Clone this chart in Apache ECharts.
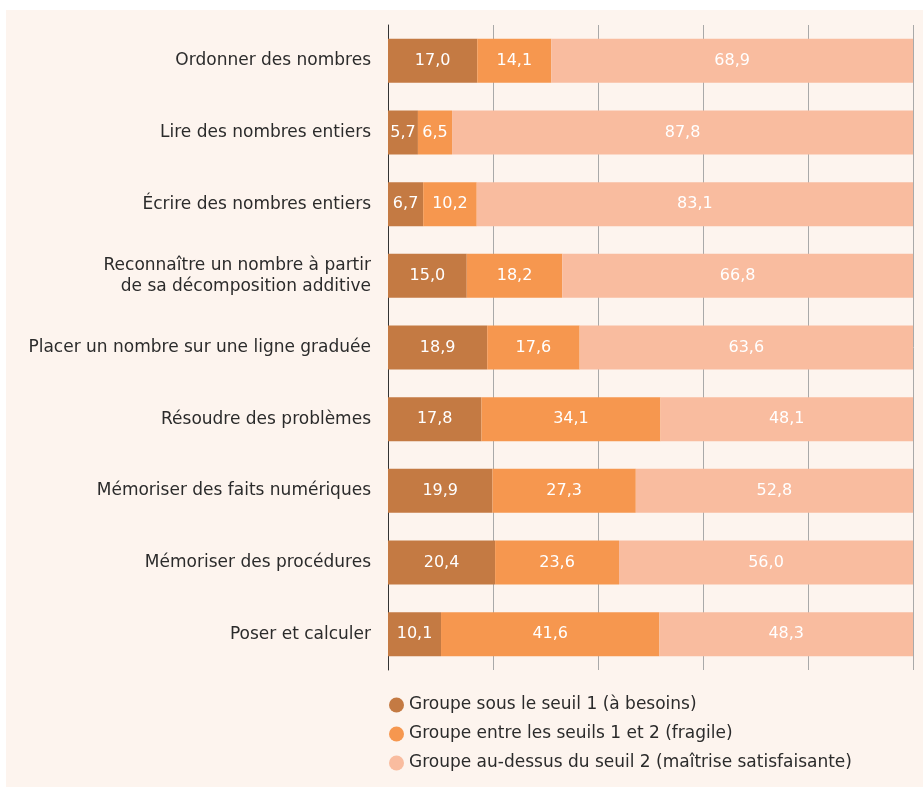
<!DOCTYPE html>
<html><head><meta charset="utf-8">
<script src="https://cdn.jsdelivr.net/npm/echarts@6/dist/echarts.min.js"></script>
<style>html,body{margin:0;padding:0;background:#fff;}#c{width:923px;height:787px;}</style>
</head><body><div id="c"></div>
<script>
const categories = [
  "Ordonner des nombres",
  "Lire des nombres entiers",
  "Écrire des nombres entiers",
  "Reconnaître un nombre à partir\nde sa décomposition additive",
  "Placer un nombre sur une ligne graduée",
  "Résoudre des problèmes",
  "Mémoriser des faits numériques",
  "Mémoriser des procédures",
  "Poser et calculer"
];
const seriesNames = [
  "Groupe sous le seuil 1 (à besoins)",
  "Groupe entre les seuils 1 et 2 (fragile)",
  "Groupe au-dessus du seuil 2 (maîtrise satisfaisante)"
];
const besoins = [17.0, 5.7, 6.7, 15.0, 18.9, 17.8, 19.9, 20.4, 10.1];
const fragile = [14.1, 6.5, 10.2, 18.2, 17.6, 34.1, 27.3, 23.6, 41.6];
const satisfaisante = [68.9, 87.8, 83.1, 66.8, 63.6, 48.1, 52.8, 56.0, 48.3];
const colors = ["#c47a43", "#f6974f", "#f9bc9f"];
const FONT = "DejaVu Sans";

const chart = echarts.init(document.getElementById('c'), null, {renderer: 'canvas'});
const mk = (name, data, color) => ({
  name, type: 'bar', stack: 'total', data, barWidth: 44,
  itemStyle: {color},
  label: {show: true, position: 'inside', color: '#fff', fontSize: 16, fontFamily: FONT,
    formatter: p => p.value.toFixed(1).replace('.', ',')},
  emphasis: {disabled: true}
});
chart.setOption({
  animation: false,
  textStyle: {fontFamily: FONT},
  graphic: [{type: 'rect', shape: {x: 6, y: 10, width: 917, height: 777}, style: {fill: '#fdf4ee'}, z: -10, silent: true}],
  grid: {left: 388, right: 10, top: 25, bottom: 117, containLabel: false},
  xAxis: {type: 'value', min: 0, max: 100, interval: 20,
    axisLabel: {show: false}, axisTick: {show: false}, axisLine: {show: false},
    splitLine: {show: true, lineStyle: {color: '#a9a9a9', width: 1}}},
  yAxis: {type: 'category', inverse: true, data: categories,
    axisLine: {show: true, lineStyle: {color: '#333', width: 1}},
    axisTick: {show: false},
    axisLabel: {color: '#2b2b2b', fontSize: 17, fontFamily: FONT, margin: 17, lineHeight: 21, align: 'right'}},
  legend: {orient: 'vertical', left: 384, top: 689, itemGap: 7, itemWidth: 15, itemHeight: 15, icon: 'circle',
    textStyle: {color: '#2b2b2b', fontSize: 17, fontFamily: FONT, lineHeight: 22}, data: seriesNames, selectedMode: false},
  series: [mk(seriesNames[0], besoins, colors[0]), mk(seriesNames[1], fragile, colors[1]), mk(seriesNames[2], satisfaisante, colors[2])]
});
</script></body></html>
